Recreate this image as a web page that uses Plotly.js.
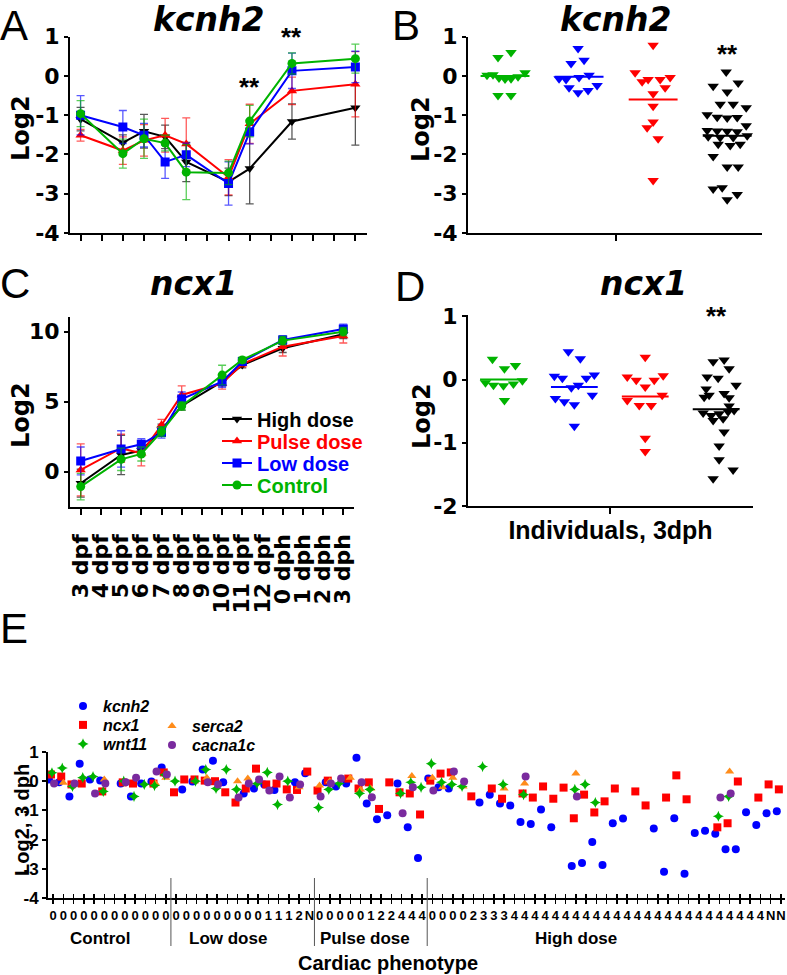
<!DOCTYPE html>
<html><head><meta charset="utf-8">
<script src="https://cdn.plot.ly/plotly-3.0.1.min.js"></script>
<style>html,body{margin:0;padding:0;background:#fff}#chart{width:787px;height:975px}</style>
</head><body><div id="chart"></div>
<script>
// ---------- DATA ----------
const timeCats = ['3 dpf','4 dpf','5 dpf','6 dpf','7 dpf','8 dpf','9 dpf','10 dpf','11 dpf','12 dpf','0 dph','1 dph','2 dph','3 dph'];
const timeMeasured = ['3 dpf','5 dpf','6 dpf','7 dpf','8 dpf','10 dpf','11 dpf','0 dph','3 dph'];
const groupNames = ['High dose','Pulse dose','Low dose','Control'];

// Panel A: kcnh2 time course (Log2, mean and error)
const kcnh2High    = [-1.10,-1.70,-1.41,-1.55,-2.19,-2.70,-2.36,-1.16,-0.81];
const kcnh2HighErr = [0.30,0.20,0.43,0.30,0.50,0.35,0.90,0.45,0.95];
const kcnh2Pulse    = [-1.51,-1.90,-1.64,-1.51,-1.73,-2.58,-1.22,-0.38,-0.21];
const kcnh2PulseErr = [0.15,0.35,0.40,0.43,0.66,0.45,0.50,0.35,0.83];
const kcnh2Low    = [-1.00,-1.30,-1.51,-2.19,-2.01,-2.74,-1.43,0.13,0.23];
const kcnh2LowErr = [0.50,0.42,0.30,0.42,0.30,0.55,0.30,0.45,0.40];
const kcnh2Ctrl    = [-0.96,-1.98,-1.60,-1.71,-2.45,-2.47,-1.15,0.32,0.44];
const kcnh2CtrlErr = [0.33,0.37,0.50,0.20,0.70,0.30,0.40,0.27,0.37];
const kcnh2Stars = ['11 dpf','0 dph','3 dph'];
const kcnh2StarY = [-0.29,0.98,1.03];

// Panel C: ncx1 time course
const ncx1High    = [-0.83,1.19,1.50,3.00,4.69,6.43,7.62,8.81,9.81];
const ncx1HighErr = [1.00,1.40,0.40,0.40,0.30,0.30,0.20,0.30,0.30];
const ncx1Pulse    = [0.12,1.67,1.31,3.33,5.48,6.30,7.69,8.93,9.69];
const ncx1PulseErr = [1.86,1.00,0.90,0.40,0.65,0.40,0.20,0.67,0.50];
const ncx1Low    = [0.76,1.62,1.95,2.79,5.19,6.43,7.86,9.41,10.19];
const ncx1LowErr = [1.00,1.30,0.40,0.40,0.50,0.40,0.20,0.30,0.35];
const ncx1Ctrl    = [-1.07,0.88,1.26,2.86,4.69,6.90,7.98,9.36,10.00];
const ncx1CtrlErr = [0.95,0.80,0.50,0.35,0.30,0.70,0.20,0.30,0.30];

// Panel B: kcnh2 individuals at 3 dph (jitter offsets in px)
const bCtrlVal = [0.02,0.03,-0.05,-0.08,-0.07,-0.02,0.08,0.47,0.60,-0.50,-0.50];
const bCtrlOff = [-18,-12,-6,0,6,13,20,-7,6,-7,6];
const bLowVal = [0.70,0.32,0.40,-0.07,-0.09,-0.04,0.02,-0.24,-0.30,-0.43,-0.37];
const bLowOff = [-1,-8,5,-20,-13,0,10,18,-10,-1,9];
const bPulseVal = [0.78,0.08,-0.04,-0.15,-0.09,-0.09,-0.30,-0.45,-0.77,-1.17,-1.32,-1.60,-2.66];
const bPulseOff = [0,-18,17,-11,-5,7,12,0,0,0,-6,5,0];
const bHighVal = [0.10,-0.26,-0.18,-0.41,-0.72,-0.72,-0.81,-0.99,-1.05,-1.07,-1.06,-1.27,-1.39,-1.40,-1.41,-1.42,-1.55,-1.57,-1.57,-1.52,-1.74,-1.77,-1.74,-2.05,-2.32,-2.32,-2.88,-2.85,-3.02,-3.15];
const bHighOff = [-1,-14,11,0,-7,6,19,-20,-10,0,10,19,-20,-10,0,10,-19,-7,6,20,-9,3,13,-14,0,11,-14,-5,10,0];
const bMedians = [0.00,-0.02,-0.60,-1.52];

// Panel D: ncx1 individuals at 3 dph
const dCtrlVal = [0.32,0.17,0.22,-0.05,-0.09,-0.10,-0.07,-0.02,-0.33];
const dCtrlOff = [-11,1,12,-18,-10,0,10,19,1];
const dLowVal = [0.44,0.33,0.05,0.02,0.07,0.02,-0.13,-0.09,-0.30,-0.35,-0.40,-0.25,-0.74];
const dLowOff = [-6,6,-20,-12,20,12,-3,4,-19,-10,0,18,0];
const dPulseVal = [0.35,0.04,-0.01,-0.01,0.06,-0.12,-0.25,-0.33,-0.41,-0.41,-0.93,-1.14];
const dPulseOff = [0,-18,-9,9,18,0,17,-18,-6,6,0,0];
const dHighVal = [0.28,0.31,0.17,0.04,0.02,-0.09,-0.15,-0.25,-0.22,-0.29,-0.28,-0.42,-0.53,-0.57,-0.54,-0.51,-0.49,-0.65,-0.62,-0.83,-1.05,-1.27,-1.43,-1.57];
const dHighOff = [-3,8,13,-9,2,20,-10,-7,8,13,-12,13,-13,-5,3,12,18,-3,7,8,3,3,17,-3];
const dMedians = [0.00,-0.12,-0.27,-0.47];

// Panel E: individuals, cardiac phenotype
const phenoGroups = ['Control','Low dose','Pulse dose','High dose'];
const phenoLabels = ['000000000000','0000000001112N','00000122444','00002333'+'4444444444444444444444444'+'NN'];
const eKcnh2 = [0.06,-0.04,-0.52,0.60,0.06,0.02,null,-0.08,-0.52,-0.08,-0.01,0.47,
  null,-0.28,-0.01,0.40,0.70,-0.04,null,-0.42,-0.25,-0.11,-0.30,null,-0.04,0.27,
  null,-0.04,-0.18,-0.08,0.80,-0.76,-1.30,-1.17,-0.08,-1.58,-2.63,
  0.09,-0.21,-0.25,null,null,-0.73,-0.46,-0.76,-0.83,-1.40,-1.47,-0.97,-1.58,null,-2.90,-2.80,-2.08,-2.87,-1.44,-1.28,null,null,-1.62,-3.10,-1.27,-3.17,-1.77,-1.70,-1.80,-2.33,-2.33,-1.06,-1.50,-1.10,-1.03];
const eNcx1 = [0.23,0.16,-0.11,-0.08,null,-0.35,null,-0.04,-0.08,null,-0.08,0.30,
  -0.38,0.06,0.06,0.02,0.00,-0.38,-0.73,-0.25,0.43,-0.11,-0.08,-0.28,-0.30,0.33,
  -0.32,0.02,null,0.09,-0.25,-0.04,-0.95,-0.04,-0.38,-0.42,-1.14,
  0.02,0.26,0.30,null,-0.52,null,-0.25,-0.60,null,-0.42,-0.56,-0.18,-0.60,-0.22,-1.27,-0.46,-1.07,-0.69,-0.25,null,-0.35,-0.83,null,-0.56,0.20,-0.62,null,null,-1.58,-1.44,-0.01,null,-0.56,-0.11,-0.28];
const eWnt11Idx = [0,1,2,3,4,5,7,8,9,10,11,12,14,15,16,17,18,20,21,22,23,26,27,28,30,31,34,35,36,37,38,39,40,42,44,46,51,52,53,65,66];
const eWnt11Val = [0.29,0.45,-0.18,0.12,0.16,-0.35,0.00,-0.52,-0.11,-0.15,0.22,0.00,0.00,0.40,-0.25,0.40,-0.28,-0.08,0.30,-0.80,0.00,-0.90,-0.28,-0.08,-0.42,-0.28,-0.42,-0.04,-0.21,0.60,-0.04,-0.11,-0.18,0.50,-0.11,-0.46,-0.28,-0.11,-0.73,-1.20,-0.52];
const eSerca2Idx = [1,2,5,10,11,15,18,19,24,26,27,29,30,31,35,37,38,39,40,44,46,51,66];
const eSerca2Val = [-0.05,-0.08,0.06,-0.08,0.12,0.12,0.00,0.09,-0.21,-0.15,0.00,0.12,-0.28,-0.25,0.18,0.12,-0.21,0.12,-0.18,-0.25,-0.08,0.26,0.33];
const eCacnaIdx = [0,2,4,5,7,8,10,11,15,16,18,19,20,21,22,23,24,26,27,28,30,31,34,35,37,39,40,46,51,65,66];
const eCacnaVal = [-0.08,-0.08,-0.42,-0.08,-0.04,0.12,0.33,0.23,-0.04,-0.11,-0.56,-0.08,0.06,-0.32,0.16,-0.56,-0.11,-0.52,-0.08,0.09,-0.04,-0.55,-1.10,-0.21,-0.32,0.33,-0.01,0.16,-0.52,-0.56,-0.42];

// ---------- STYLE ----------
const W = 787, H = 975;
const dx = (a,b) => [a/W, b/W];
const dy = (top,bottom) => [1-bottom/H, 1-top/H];
const C_BLACK='#000000', C_RED='#ff0000', C_BLUE='#0000ff', C_GREEN='#00b300', C_ORANGE='#ff8c1a', C_PURPLE='#7a2a9e';
const SANS = 'Liberation Sans, Arial, sans-serif';
const DJ = 'DejaVu Sans, sans-serif';
const seriesStyle = [
  {color:C_BLACK, symbol:'triangle-down'},
  {color:C_RED, symbol:'triangle-up'},
  {color:C_BLUE, symbol:'square'},
  {color:C_GREEN, symbol:'circle'}
];
function rgba(hex,a){const n=parseInt(hex.slice(1),16);return `rgba(${n>>16},${(n>>8)&255},${n&255},${a})`;}
const hy = v => String(v).replace('\u2212','-');

const traces = [];
const legendPos = {};
// A and C
const aSeries = [[kcnh2High,kcnh2HighErr],[kcnh2Pulse,kcnh2PulseErr],[kcnh2Low,kcnh2LowErr],[kcnh2Ctrl,kcnh2CtrlErr]];
const cSeries = [[ncx1High,ncx1HighErr],[ncx1Pulse,ncx1PulseErr],[ncx1Low,ncx1LowErr],[ncx1Ctrl,ncx1CtrlErr]];
aSeries.forEach((s,i)=>{
  const st=seriesStyle[i];
  traces.push({x:timeMeasured,y:s[0],type:'scatter',mode:'lines+markers',xaxis:'x',yaxis:'y',showlegend:false,
    line:{color:st.color,width:2},marker:{symbol:st.symbol,size:9,color:st.color},
    error_y:{type:'data',array:s[1],visible:true,color:rgba(st.color,0.65),thickness:1.3,width:4}});
});
const cLegendY = [419,441,463,485];
cSeries.forEach((s,i)=>{
  const st=seriesStyle[i];
  const lg = i===0 ? 'legend' : 'legend'+(i+1);
  legendPos[lg] = {x:217, y:cLegendY[i], size:20};
  traces.push({x:timeMeasured,y:s[0],type:'scatter',mode:'lines+markers',xaxis:'x3',yaxis:'y3',showlegend:true,legend:lg,
    name:`<span style="color:${st.color}">${groupNames[i]}</span>`,
    line:{color:st.color,width:2},marker:{symbol:st.symbol,size:9,color:st.color},
    error_y:{type:'data',array:s[1],visible:true,color:rgba(st.color,0.65),thickness:1.3,width:4}});
});
// B and D
const MED_HALF = 0.33;
function swarm(vals, offs, g, color, xa, ya, unitPx){
  traces.push({x:vals.map((v,k)=>g+offs[k]/unitPx), y:vals, type:'scatter', mode:'markers', xaxis:xa, yaxis:ya, showlegend:false,
    marker:{symbol:'triangle-down', size:10, color:color}});
}
function medianLine(m, g, color, xa, ya){
  traces.push({x:[g-MED_HALF,g+MED_HALF], y:[m,m], type:'scatter', mode:'lines', xaxis:xa, yaxis:ya, showlegend:false,
    line:{color:color,width:2}});
}
const bGroups = [[bCtrlVal,bCtrlOff,C_GREEN],[bLowVal,bLowOff,C_BLUE],[bPulseVal,bPulseOff,C_RED],[bHighVal,bHighOff,C_BLACK]];
bGroups.forEach((g,i)=>{swarm(g[0],g[1],i,g[2],'x2','y2',74); medianLine(bMedians[i],i,g[2],'x2','y2');});
const dGroups = [[dCtrlVal,dCtrlOff,C_GREEN],[dLowVal,dLowOff,C_BLUE],[dPulseVal,dPulseOff,C_RED],[dHighVal,dHighOff,C_BLACK]];
dGroups.forEach((g,i)=>{swarm(g[0],g[1],i,g[2],'x4','y4',71); medianLine(dMedians[i],i,g[2],'x4','y4');});

// E
const eTickText = phenoLabels.join('').split('');
const eTickVals = eTickText.map((_,i)=>i);
function eTrace(name, xs, ys, shift, color, symbol, size, lg, lx, ly){
  legendPos[lg] = {x:lx, y:ly, size:16};
  traces.push({x:xs.map(v=>v+shift), y:ys, type:'scatter', mode:'markers', xaxis:'x5', yaxis:'y5', name:`<b><i>${name}</i></b>`,
    legend:lg, showlegend:true, marker:{symbol:symbol,size:size,color:color}});
}
eTrace('kcnh2', eTickVals, eKcnh2, -0.4, C_BLUE, 'circle', 8, 'legend5', 63, 706);
eTrace('ncx1', eTickVals, eNcx1, -0.2, C_RED, 'square', 8, 'legend6', 63, 725);
eTrace('serca2', eSerca2Idx, eSerca2Val, 0.0, C_ORANGE, 'triangle-up', 8, 'legend7', 152, 726);
eTrace('wnt11', eWnt11Idx, eWnt11Val, -0.1, C_GREEN, 'star-diamond', 8, 'legend8', 63, 744);
eTrace('cacna1c', eCacnaIdx, eCacnaVal, 0.1, C_PURPLE, 'circle', 8, 'legend9', 152, 745);
traces.push({x:[],y:[],xaxis:'x6',yaxis:'y5',showlegend:false,type:'scatter'});

// group boundaries in E
const groupSizes = phenoLabels.map(s=>s.length);
const groupStarts = []; let acc=0; groupSizes.forEach(n=>{groupStarts.push(acc); acc+=n;});
const shapes = groupStarts.slice(1).map(s=>({type:'line',xref:'x5',yref:'paper',x0:s-0.5,x1:s-0.5,y0:1-946/H,y1:1-878/H,line:{color:'#555',width:1}}));

const axBase = {showline:true, linecolor:'#000', linewidth:2, showgrid:false, zeroline:false, ticks:'outside', tickcolor:'#000', tickwidth:2, ticklen:6};
const tickFontBig = {family:DJ, size:22, weight:'bold', color:'#000'};
const yt = vals => ({tickvals:vals, ticktext:vals.map(hy)});

const annotations = [];
function letter(text, x, y){
  annotations.push({text, x:x/W, y:1-y/H, xref:'paper', yref:'paper', showarrow:false,
    font:{family:SANS, size:42, weight:'normal', color:'#000'}, xanchor:'left', yanchor:'top'});
}
letter('A', -2, 0); letter('B', 390, 0); letter('C', -2, 258); letter('D', 393, 261); letter('E', -2, 603);
const ttl = (t,cx,y)=>annotations.push({text:`<b><i>${t}</i></b>`, x:cx/W, y:1-y/H, xref:'paper', yref:'paper', showarrow:false, xanchor:'center', yanchor:'top', font:{family:DJ,size:33,color:'#000'}});
ttl('kcnh2', 208, -2); ttl('kcnh2', 615, -2); ttl('ncx1', 193, 262); ttl('ncx1', 643, 262);
function ytitle(text, cx, cy, font){
  annotations.push({text, x:cx/W, y:1-cy/H, xref:'paper', yref:'paper', showarrow:false, textangle:-90, xanchor:'center', yanchor:'middle', font});
}
const logFont = {family:DJ, size:24, weight:'bold', color:'#000'};
ytitle('Log2', 21, 128, logFont); ytitle('Log2', 421, 129, logFont); ytitle('Log2', 21, 415, logFont); ytitle('Log2', 422, 416, logFont);
ytitle('Log2, 3 dph', 22, 820, {family:SANS, size:20, weight:'bold', color:'#000'});
const starFont = {family:SANS,size:26,weight:'bold',color:'#000'};
kcnh2Stars.forEach((c,i)=>annotations.push({text:'**',x:c,y:kcnh2StarY[i],xref:'x',yref:'y',showarrow:false,yanchor:'middle',font:starFont}));
annotations.push({text:'**',x:3,y:0.55,xref:'x2',yref:'y2',showarrow:false,yanchor:'middle',font:starFont});
annotations.push({text:'**',x:3,y:1.0,xref:'x4',yref:'y4',showarrow:false,yanchor:'middle',font:starFont});
const groupLabelShift = [-0.9,-1.4,-0.6,-3];
phenoGroups.forEach((g,i)=>{
  const c = groupStarts[i] + (groupSizes[i]-1)/2 + groupLabelShift[i];
  annotations.push({text:g, x:c, y:1-938/H, xref:'x5', yref:'paper', showarrow:false, yanchor:'middle', font:{family:SANS,size:17,weight:'bold',color:'#000'}});
});
annotations.push({text:'Cardiac phenotype', x:388/W, y:1-963/H, xref:'paper', yref:'paper', showarrow:false, yanchor:'middle', font:{family:SANS,size:20,weight:'bold',color:'#000'}});

const layout = {
  width:W, height:H, margin:{l:0,r:0,t:0,b:0}, paper_bgcolor:'#fff', plot_bgcolor:'rgba(0,0,0,0)',
  font:{family:DJ, size:20, color:'#000', weight:'bold'},
  xaxis: Object.assign({}, axBase, {domain:dx(70,367), anchor:'y', type:'category', categoryorder:'array', categoryarray:timeCats, range:[-0.5,13.55], showticklabels:false}),
  yaxis: Object.assign({}, axBase, yt([-4,-3,-2,-1,0,1]), {domain:dy(36.7,233), anchor:'x', range:[-4,1], tickfont:tickFontBig, ticklen:4}),
  xaxis2: Object.assign({}, axBase, {domain:dx(468,762), anchor:'y2', range:[-0.5,3.47], tickvals:[1.5], ticktext:[''], showticklabels:false}),
  yaxis2: Object.assign({}, axBase, yt([-4,-3,-2,-1,0,1]), {domain:dy(36.7,233), anchor:'x2', range:[-4,1], tickfont:tickFontBig, ticklen:4}),
  xaxis3: Object.assign({}, axBase, {domain:dx(70,354), anchor:'y3', type:'category', categoryorder:'array', categoryarray:timeCats, range:[-0.53,13.53],
    tickvals:timeCats, ticktext:timeCats, tickangle:-90, ticklabelstandoff:10, tickfont:{family:DJ,size:22,weight:'bold',color:'#000'}}),
  yaxis3: Object.assign({}, axBase, yt([0,5,10]), {domain:dy(316.7,507.3), anchor:'x3', range:[-2.55,11.07], tickfont:tickFontBig, ticklen:4}),
  xaxis4: Object.assign({}, axBase, {domain:dx(468,753), anchor:'y4', range:[-0.5,3.52], tickvals:[1.5], ticktext:[''], showticklabels:false,
    title:{text:'Individuals, 3dph', font:{family:SANS,size:25,weight:'bold',color:'#000'}, standoff:8}}),
  yaxis4: Object.assign({}, axBase, yt([-2,-1,0,1]), {domain:dy(315,506), anchor:'x4', range:[-2,1.02], tickfont:tickFontBig, ticklen:4}),
  xaxis5: Object.assign({}, axBase, {domain:dx(48,785), anchor:'y5', range:[-0.49,71.4], tickvals:eTickVals, ticktext:eTickText, tickangle:0, ticklen:4, tickwidth:1.5,
    tickfont:{family:SANS,size:13,weight:'bold',color:'#000'}}),
  xaxis6: {domain:dx(48,785), anchor:'y5', overlaying:'x5', range:[-0.49,71.4], tickvals:eTickVals, ticks:'inside', ticklen:4, tickwidth:1.5, tickcolor:'#000',
    showticklabels:false, showline:false, showgrid:false, zeroline:false},
  yaxis5: Object.assign({}, axBase, yt([-4,-3,-2,-1,0,1]), {domain:dy(752,898), anchor:'x5', range:[-4,1], ticklen:4,
    tickfont:{family:SANS,size:17,weight:'bold',color:'#000'}}),
  shapes: shapes,
  annotations: annotations
};
Object.keys(legendPos).forEach(k=>{
  const p = legendPos[k];
  layout[k] = {x:p.x/W, y:1-p.y/H, xanchor:'left', yanchor:'middle', bgcolor:'rgba(0,0,0,0)', borderwidth:0,
    font:{family:SANS, size:p.size, weight:'bold', color:'#000'}, tracegroupgap:0, itemwidth:30};
});
Plotly.newPlot('chart', traces, layout, {staticPlot:true, displayModeBar:false});
</script></body></html>
